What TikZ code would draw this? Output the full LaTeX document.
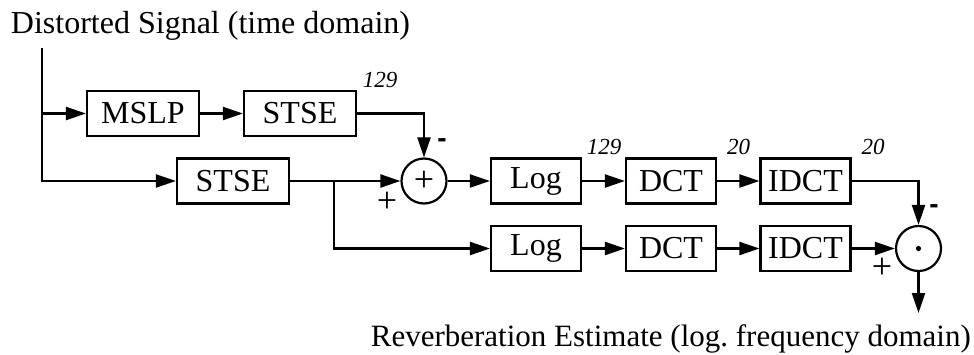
\documentclass[tikz,border=0pt]{standalone}
\usepackage{fontspec}
\setmainfont{Liberation Serif}
\newfontfamily\dashfont{Liberation Sans}
\usetikzlibrary{arrows.meta}
\begin{document}
\begin{tikzpicture}[x=1pt,y=-1pt,
  blk/.style={draw, line width=2.2pt, minimum height=45pt, inner sep=0pt,
    font=\fontsize{32}{36}\selectfont},
  wide/.style={blk, minimum width=112pt},
  narrow/.style={blk, minimum width=90pt},
  sumnode/.style={draw, circle, line width=2.2pt, minimum size=45pt, inner sep=0pt,
    font=\fontsize{36}{40}\selectfont},
  dim/.style={font=\fontsize{23}{26}\selectfont\itshape, inner sep=0pt},
  sign/.style={font=\fontsize{36}{40}\selectfont, inner sep=0pt},
  minus/.style={font=\fontsize{28}{30}\selectfont\dashfont\bfseries, inner sep=0pt},
  caption/.style={font=\fontsize{32}{36}\selectfont, inner sep=0pt},
  flow/.style={line width=2.2pt, -{Triangle[length=20pt,width=13pt]}},
]
\useasboundingbox (0,0) rectangle (974,354);

% captions
\node[caption, anchor=base] (title) at (210.5,33) {Distorted Signal (time domain)};
\node[caption, anchor=base east, font=\fontsize{31}{35}\selectfont] (result) at (971,346)
  {Reverberation Estimate (log.\ frequency domain)};

% blocks
\node[wide] (mslp)  at (143,113.5) {MSLP};
\node[wide] (stse1) at (300,113.5) {STSE};
\node[wide] (stse2) at (233,181) {STSE};
\node[sumnode] (add) at (424,181) {+};
\node[narrow] (log1)  at (536,181) {Log};
\node[narrow] (dct1)  at (671,181) {DCT};
\node[narrow] (idct1) at (805.5,181) {IDCT};
\node[narrow] (log2)  at (536,248.5) {Log};
\node[narrow] (dct2)  at (671,248.5) {DCT};
\node[narrow] (idct2) at (805.5,248.5) {IDCT};
\node[sumnode] (mul) at (918.5,248.5) {};
\fill (mul.center) circle (2.6pt);

% helper points
\coordinate (src) at (42,48);
\coordinate (split) at (334,181);
\coordinate (out) at (918.5,313);

% connections
\draw[flow] (src) |- (mslp.west);
\draw[flow] (src) |- (stse2.west);
\draw[flow] (mslp) -- (stse1);
\draw[flow] (stse1.east) -| (add.north);
\draw[flow] (stse2.east) -- (add.west);
\draw[flow] (split) |- (log2.west);
\draw[flow] (add) -- (log1);
\draw[flow] (log1) -- (dct1);
\draw[flow] (dct1) -- (idct1);
\draw[flow] (idct1.east) -| (mul.north);
\draw[flow] (log2) -- (dct2);
\draw[flow] (dct2) -- (idct2);
\draw[flow] (idct2) -- (mul);
\draw[flow] (mul.south) -- (out);

% dimension labels
\node[dim] (d1) at (380,80) {129};
\node[dim] (d2) at (604,147) {129};
\node[dim] (d3) at (738.5,147) {20};
\node[dim] (d4) at (873,147) {20};

% signs
\node[sign] (p1) at (387,202) {+};
\node[sign] (p2) at (882,268) {+};
\node[minus] (m1) at (442,143) {-};
\node[minus] (m2) at (934,209) {-};
\end{tikzpicture}
\end{document}
